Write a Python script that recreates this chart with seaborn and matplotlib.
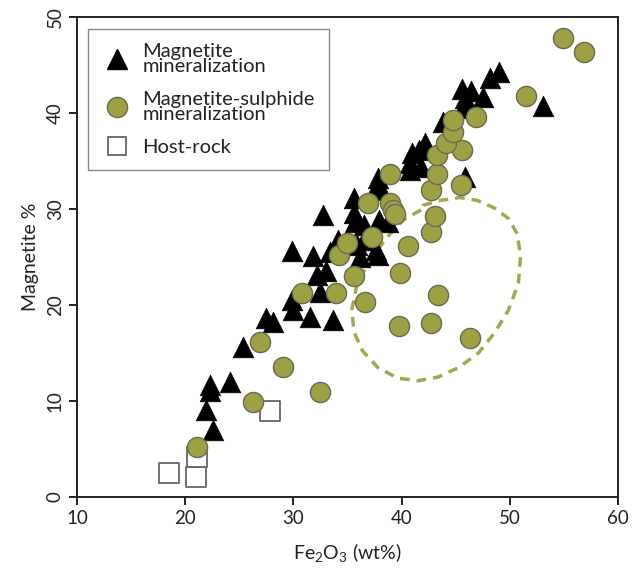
import matplotlib
matplotlib.use("Agg")
import matplotlib.pyplot as plt
from matplotlib.lines import Line2D
import seaborn as sns

# Magnetite mineralization (triangles)
mag_fe2o3 = [21.9, 22.6, 22.3, 22.3, 24.1, 25.3, 27.5, 28.1, 29.9, 30.0,
             31.5, 33.7, 32.2, 32.5, 29.9, 31.8, 33.4, 34.1, 35.6, 35.7,
             36.5, 37.8, 37.9, 38.7, 37.8, 36.2, 35.9, 32.7, 35.6, 38.1,
             37.8, 40.8, 41.0, 41.6, 41.8, 42.2, 43.8, 45.7, 45.9, 45.6,
             46.4, 47.5, 48.2, 49.0, 53.1, 45.9, 40.8, 37.6, 36.5, 33.0]
mag_pct = [9.1, 7.0, 11.7, 11.0, 12.0, 15.6, 18.6, 18.2, 20.5, 19.5,
           18.8, 18.4, 23.1, 21.4, 25.6, 25.1, 25.5, 26.8, 31.1, 28.6,
           28.3, 32.6, 28.9, 28.6, 25.2, 25.0, 26.3, 29.4, 29.6, 32.0,
           33.2, 34.8, 35.8, 36.1, 34.4, 36.9, 39.1, 40.5, 41.6, 42.5,
           42.3, 41.7, 43.6, 44.3, 40.7, 33.3, 34.1, 25.7, 26.8, 23.5]

# Magnetite-sulphide mineralization (circles)
sul_fe2o3 = [21.1, 26.3, 29.0, 32.5, 26.9, 30.8, 33.9, 36.6, 35.6, 34.2,
             35.0, 37.3, 36.9, 38.9, 39.2, 39.4, 38.9, 39.9, 40.6, 42.7,
             43.1, 42.7, 45.5, 43.3, 43.3, 45.6, 44.1, 44.8, 44.8, 46.9,
             51.5, 54.9, 56.9, 43.4, 39.8, 42.7, 46.3]
sul_pct = [5.2, 9.9, 13.5, 10.9, 16.1, 21.3, 21.3, 20.3, 23.0, 25.2,
           26.5, 27.1, 30.6, 30.6, 29.9, 29.5, 33.7, 23.3, 26.1, 27.6,
           29.3, 32.0, 32.5, 33.7, 35.6, 36.1, 36.9, 38.0, 39.3, 39.6,
           41.8, 47.8, 46.4, 21.0, 17.8, 18.1, 16.6]

# Host-rock (open squares)
host_fe2o3 = [18.5, 21.0, 21.1, 27.8]
host_pct = [2.5, 2.1, 4.2, 9.0]

# dashed outline around the sulphide group
outline_fe2o3 = [41.8, 40.2, 38.7, 37.1, 35.9, 35.4, 35.6, 36.4, 37.8, 39.6,
                 41.5, 43.4, 45.3, 47.1, 48.6, 49.9, 50.8, 51.0, 50.7, 49.9,
                 48.6, 47.0, 45.4, 43.6, 42.0, 41.8]
outline_pct = [29.9, 28.9, 27.1, 24.7, 22.3, 19.5, 17.2, 15.2, 13.5, 12.4,
               12.1, 12.5, 13.5, 15.0, 17.1, 19.5, 22.3, 25.0, 27.4, 29.0,
               30.1, 30.9, 31.2, 30.9, 30.4, 29.9]

olive = "#9da143"

sns.set_theme(style="ticks")
plt.rcParams["font.family"] = ["Lato", "DejaVu Sans"]
plt.rcParams["mathtext.default"] = "regular"

fig = plt.figure(figsize=(6.37, 5.68), dpi=100)
ax = fig.add_axes([0.121, 0.125, 0.849, 0.845])

ax.plot(outline_fe2o3, outline_pct, color="#a6a64c", lw=2.5,
        ls=(0, (2.8, 2.0)), zorder=1)

sns.scatterplot(x=mag_fe2o3, y=mag_pct, marker="^", s=220, color="black",
                edgecolor="black", linewidth=0.5, ax=ax, zorder=2)
sns.scatterplot(x=host_fe2o3, y=host_pct, marker="s", s=190, color="white",
                edgecolor="#666666", linewidth=1.3, ax=ax, zorder=3)
sns.scatterplot(x=sul_fe2o3, y=sul_pct, marker="o", s=210, color=olive,
                edgecolor="#6a6a52", linewidth=1.0, ax=ax, zorder=4)

ax.set_xlim(10, 60)
ax.set_ylim(0, 50)
ax.set_xticks(range(10, 61, 10))
ax.set_yticks(range(0, 51, 10))
for side in ["left", "right", "top", "bottom"]:
    ax.spines[side].set_visible(True)
    ax.spines[side].set_color("#222222")
    ax.spines[side].set_linewidth(1.4)
ax.tick_params(direction="out", length=6, width=1.4, color="#222222",
               labelsize=13.5, labelcolor="#222222")
plt.setp(ax.get_yticklabels(), rotation=90, va="center")

ax.set_xlabel(r"Fe$_2$O$_3$ (wt%)", fontsize=14, color="#222222", labelpad=10)
ax.set_ylabel("Magnetite %", fontsize=14, color="#222222", labelpad=6)

handles = [
    Line2D([], [], ls="", marker="^", ms=14.5, color="black"),
    Line2D([], [], ls="", marker="o", ms=14.5, markerfacecolor=olive,
           markeredgecolor="#6a6a52"),
    Line2D([], [], ls="", marker="s", ms=13.5, markerfacecolor="white",
           markeredgecolor="#666666", markeredgewidth=1.3),
]
labels = ["Magnetite\nmineralization",
          "Magnetite-sulphide\nmineralization",
          "Host-rock"]
leg = ax.legend(handles, labels, loc="upper left", bbox_to_anchor=(0.02, 0.975),
                borderaxespad=0, fontsize=14.5, frameon=True, fancybox=False,
                framealpha=1, edgecolor="#888888", borderpad=0.7,
                labelspacing=0.8, handletextpad=0.5, handlelength=1.5)
leg.get_frame().set_linewidth(1.0)
for t in leg.get_texts():
    t.set_linespacing(0.85)
    t.set_color("#222222")

fig.savefig("out.png", dpi=100)
